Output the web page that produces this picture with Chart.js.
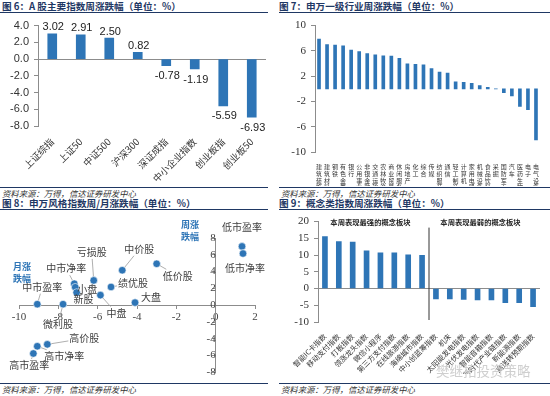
<!DOCTYPE html>
<html><head><meta charset="utf-8">
<script src="https://cdn.jsdelivr.net/npm/chart.js@4.4.0/dist/chart.umd.min.js"></script>
<style>
body{margin:0;width:550px;height:396px;background:#fff;position:relative;overflow:hidden;font-family:'Noto Sans CJK SC',sans-serif;}
.t{position:absolute;font-size:9.6px;font-weight:bold;color:#1f3864;white-space:nowrap;line-height:12px;z-index:2;}
.ln{position:absolute;height:0;border-top:1.6px solid #1f3864;z-index:2;}
.src{position:absolute;font-size:8.4px;font-style:italic;color:#333;white-space:nowrap;line-height:10px;z-index:2;}
canvas{position:absolute;z-index:1;}
.ax{position:absolute;color:#2e75b6;font-size:9px;line-height:11.5px;font-weight:bold;z-index:2;}
.wm{position:absolute;color:#cfcfcf;font-size:13.5px;white-space:nowrap;z-index:2;}
</style></head>
<body>
<div class="t" style="left:2px;top:0px">图 6：A 股主要指数周涨跌幅（单位：%）</div>
<div class="ln" style="left:0;top:12px;width:268px"></div>
<div class="t" style="left:279px;top:0px">图 7：申万一级行业周涨跌幅（单位：%）</div>
<div class="ln" style="left:279px;top:12px;width:271px"></div>

<div class="ln" style="left:0;top:187px;width:268px;border-top-width:1.2px"></div>
<div class="src" style="left:2px;top:188px">资料来源：万得，信达证券研发中心</div>
<div class="ln" style="left:279px;top:187px;width:271px;border-top-width:1.2px"></div>
<div class="src" style="left:281px;top:188px">资料来源：万得，信达证券研发中心</div>

<div class="t" style="left:2px;top:197px">图 8：申万风格指数周/月涨跌幅（单位：%）</div>
<div class="ln" style="left:0;top:209px;width:268px"></div>
<div class="t" style="left:279px;top:197px">图 9：概念类指数周涨跌幅（单位：%）</div>
<div class="ln" style="left:279px;top:209px;width:271px"></div>

<div class="ln" style="left:0;top:383px;width:268px;border-top-width:1.2px"></div>
<div class="src" style="left:2px;top:384px">资料来源：万得，信达证券研发中心</div>
<div class="ln" style="left:279px;top:383px;width:271px;border-top-width:1.2px"></div>
<div class="src" style="left:281px;top:384px">资料来源：万得，信达证券研发中心</div>

<div class="ax" style="left:181px;top:219px">周涨<br>跌幅</div>
<div class="ax" style="left:13px;top:261px">月涨<br>跌幅</div>
<div class="wm" style="left:436px;top:360px">樊继拓投资策略</div>

<canvas id="c6" width="270" height="172" style="left:0;top:14px"></canvas>
<canvas id="c7" width="275" height="172" style="left:275px;top:14px"></canvas>
<canvas id="c8" width="275" height="172" style="left:0;top:210px"></canvas>
<canvas id="c9" width="275" height="164" style="left:275px;top:210px"></canvas>

<script>
// ---- data ----
const cats6 = ['上证综指','上证50','中证500','沪深300','深证成指','中小企业指数','创业板指','创业板50'];
const vals6 = [3.02, 2.91, 2.50, 0.82, -0.78, -1.19, -5.59, -6.93];

const cats7 = ['建筑装饰','建筑材料','钢铁','有色金属','银行','公用事业','非银金融','交通运输','农林牧渔','商业贸易','休闲服务','房地产','化工','综合','传媒','纺织服装','通信','轻工制造','计算机','家用电器','机械设备','食品饮料','采掘','国防军工','汽车','医药生物','电子','电气设备'];
const vals7 = [7.87, 7.0, 6.9, 6.8, 6.14, 5.9, 5.58, 5.38, 5.23, 5.18, 4.82, 3.96, 3.86, 3.81, 3.2, 2.64, 2.49, 1.12, 1.02, 0.86, 0.51, 0.25, 0.0, -0.6, -1.12, -2.8, -3.3, -8.1];

const names8 = ['低市盈率','低市净率','中价股','低价股','亏损股','绩优股','中市净率','小盘','新股','中盘','大盘','中市盈率','微利股','高价股','高市净率','高市盈率'];
const monthX8 = [1.34, 1.39, -4.75, -3.0, -6.2, -5.32, -7.19, -7.14, -7.07, -5.86, -4.1, -9.07, -7.76, -8.56, -9.07, -9.27];
const weekY8 = [7.0, 6.15, 4.16, 4.93, 2.95, 2.17, 2.56, 2.14, 1.51, 1.2, 0.31, 0.12, 0.12, -4.66, -4.89, -5.75];
// label placement for chart 8: [dx, dy, leaderLine]
const labelOffsets8 = [[0,-19,0],[2,15,0],[17,-21,1],[21,12,1],[-2,-28,1],[22,-4,1],[-8,-15,1],[12,2,0],[7,7,0],[16,18,1],[16,-5,0],[5,-17,1],[-5,20,1],[37,-6,1],[27,10,1],[-4,12,1]];

const cats9 = ['智能IC卡指数','移动支付指数','打板指数','领涨龙头指数','微信小程序','第三方支付指数','在线旅游指数','海绵城市指数','中小创蓝筹指数','机床','太阳能发电指数','光伏发电指数','智能音箱指数','新时代产业链指数','新能源指数','高送转预期指数'];
const vals9 = [15.5, 14.06, 13.86, 11.29, 10.7, 10.7, 10.1, 9.9, -3.07, -3.07, -3.27, -3.37, -3.37, -4.26, -4.26, -5.45];
const sectionTitles9 = ['本周表现最强的概念板块','本周表现最弱的概念板块'];

// ---- styles ----
const BLUE = '#2e75b6';
const CJK = "'Noto Sans CJK SC', sans-serif";
const SERIF = "'Liberation Serif', serif";
const SANS = "'Liberation Sans', Arial, sans-serif";
const AXC = '#8c8c8c';
Chart.defaults.animation = false;
Chart.defaults.plugins.legend.display = false;
Chart.defaults.plugins.tooltip.enabled = false;
Chart.defaults.color = '#333';

const zeroGrid = c => (c.tick && c.tick.value === 0) ? AXC : 'rgba(0,0,0,0)';

const valueLabels = {
  id: 'valueLabels',
  afterDatasetsDraw(chart) {
    const ctx = chart.ctx, meta = chart.getDatasetMeta(0);
    ctx.save();
    ctx.font = '11px ' + SANS; ctx.fillStyle = '#222'; ctx.textAlign = 'center';
    meta.data.forEach((bar, i) => {
      const v = chart.data.datasets[0].data[i];
      ctx.textBaseline = v >= 0 ? 'bottom' : 'top';
      ctx.fillText(v.toFixed(2), bar.x + 1, v >= 0 ? bar.y - 1 : bar.y + 5);
    });
    ctx.restore();
  }
};

new Chart(document.getElementById('c6'), {
  type: 'bar',
  data: { labels: cats6, datasets: [{ data: vals6, backgroundColor: BLUE, barThickness: 9 }] },
  options: {
    responsive: false, devicePixelRatio: 1,
    layout: { padding: { top: 8, right: 4, left: 0, bottom: 0 } },
    scales: {
      x: { grid: { display: false }, border: { display: false },
           ticks: { autoSkip: false, maxRotation: 45, minRotation: 45, font: { family: CJK, size: 9.5 }, color: '#333', padding: 2 },
           afterFit: s => { s.height = 60; } },
      y: { min: -8, max: 4,
           ticks: { stepSize: 2, callback: v => v.toFixed(1), font: { family: SANS, size: 11 }, color: '#333', padding: 5 },
           grid: { color: zeroGrid, tickColor: AXC, tickLength: 4 }, border: { color: AXC },
           afterFit: s => { s.width = 38; } }
    }
  },
  plugins: [valueLabels]
});

new Chart(document.getElementById('c7'), {
  type: 'bar',
  data: { labels: cats7, datasets: [{ data: vals7, backgroundColor: BLUE, barThickness: 3 }] },
  options: {
    responsive: false, devicePixelRatio: 1,
    layout: { padding: { top: 8, right: 10, left: 0, bottom: 0 } },
    scales: {
      x: { grid: { display: false }, border: { display: false },
           ticks: { autoSkip: false, maxRotation: 0, minRotation: 0, font: { family: CJK, size: 6, lineHeight: 1.15 }, color: '#333', padding: 3,
                    callback: function (v) { return this.getLabelForValue(v).split(''); } },
           afterFit: s => { s.height = 34; } },
      y: { min: -10, max: 10,
           ticks: { stepSize: 2, font: { family: SERIF, size: 11 }, color: '#333', padding: 5 },
           grid: { color: zeroGrid, tickColor: AXC, tickLength: 4 }, border: { color: AXC },
           afterFit: s => { s.width = 40; } }
    }
  }
});

const scatterLabels = {
  id: 'scatterLabels',
  afterDatasetsDraw(chart) {
    const ctx = chart.ctx, meta = chart.getDatasetMeta(0);
    ctx.save();
    ctx.font = '10px ' + CJK; ctx.textAlign = 'center'; ctx.textBaseline = 'middle';
    meta.data.forEach((pt, i) => {
      const [dx, dy, line] = labelOffsets8[i];
      if (line) {
        const w = ctx.measureText(names8[i]).width / 2 + 1, h = 6.5;
        const t = 1 - Math.min(dx ? w / Math.abs(dx) : Infinity, dy ? h / Math.abs(dy) : Infinity);
        const s = 4 / Math.hypot(dx, dy);
        if (t > s) {
          ctx.strokeStyle = '#9a9a9a'; ctx.lineWidth = 0.8;
          ctx.beginPath(); ctx.moveTo(pt.x + dx * s, pt.y + dy * s); ctx.lineTo(pt.x + dx * t, pt.y + dy * t); ctx.stroke();
        }
      }
      ctx.fillStyle = '#404040';
      ctx.fillText(names8[i], pt.x + dx, pt.y + dy);
    });
    ctx.restore();
  }
};

new Chart(document.getElementById('c8'), {
  type: 'scatter',
  data: { datasets: [{ data: monthX8.map((x, i) => ({ x: x, y: weekY8[i] })), backgroundColor: BLUE, borderColor: '#ffffff', borderWidth: 0.6, pointRadius: 3.8 }] },
  options: {
    responsive: false, devicePixelRatio: 1,
    layout: { padding: { left: 19, right: 20, top: 28, bottom: 7 } },
    scales: {
      x: { type: 'linear', position: { y: 0 }, min: -10, max: 2,
           ticks: { stepSize: 2, font: { family: SERIF, size: 11 }, color: '#444', padding: 2 },
           grid: { drawOnChartArea: false, tickLength: 3, color: AXC }, border: { color: AXC } },
      y: { type: 'linear', position: { x: 0 }, min: -8, max: 8,
           ticks: { stepSize: 2, font: { family: SERIF, size: 11 }, color: '#444', padding: 3 },
           grid: { drawOnChartArea: false, tickLength: 3, color: AXC }, border: { color: AXC } }
    }
  },
  plugins: [scatterLabels]
});

const sectionPlugin = {
  id: 'sections',
  afterDatasetsDraw(chart) {
    const x = chart.scales.x, a = chart.chartArea, ctx = chart.ctx;
    const mid = (x.getPixelForValue(7) + x.getPixelForValue(8)) / 2;
    ctx.save();
    ctx.strokeStyle = '#333'; ctx.lineWidth = 1;
    ctx.beginPath(); ctx.moveTo(mid, a.top + 6); ctx.lineTo(mid, a.bottom - 2); ctx.stroke();
    ctx.font = 'bold 7.3px ' + CJK; ctx.fillStyle = '#222'; ctx.textAlign = 'center'; ctx.textBaseline = 'middle';
    ctx.fillText(sectionTitles9[0], (x.getPixelForValue(0) + x.getPixelForValue(7)) / 2 - 3, a.top + 1);
    ctx.fillText(sectionTitles9[1], (x.getPixelForValue(8) + x.getPixelForValue(15)) / 2 - 4, a.top + 1);
    ctx.restore();
  }
};

new Chart(document.getElementById('c9'), {
  type: 'bar',
  data: { labels: cats9, datasets: [{ data: vals9, backgroundColor: BLUE, barThickness: 5 }] },
  options: {
    responsive: false, devicePixelRatio: 1,
    layout: { padding: { top: 11, right: 10, left: 0, bottom: 0 } },
    scales: {
      x: { grid: { display: false }, border: { display: false },
           ticks: { autoSkip: false, maxRotation: 45, minRotation: 45, font: { family: CJK, size: 7.3 }, color: '#333', padding: 2 },
           afterFit: s => { s.height = 52; } },
      y: { min: -10, max: 20,
           ticks: { stepSize: 5, font: { family: SERIF, size: 11 }, color: '#333', padding: 5 },
           grid: { color: zeroGrid, tickColor: AXC, tickLength: 4 }, border: { color: AXC },
           afterFit: s => { s.width = 43; } }
    }
  },
  plugins: [sectionPlugin]
});
</script>
</body></html>
